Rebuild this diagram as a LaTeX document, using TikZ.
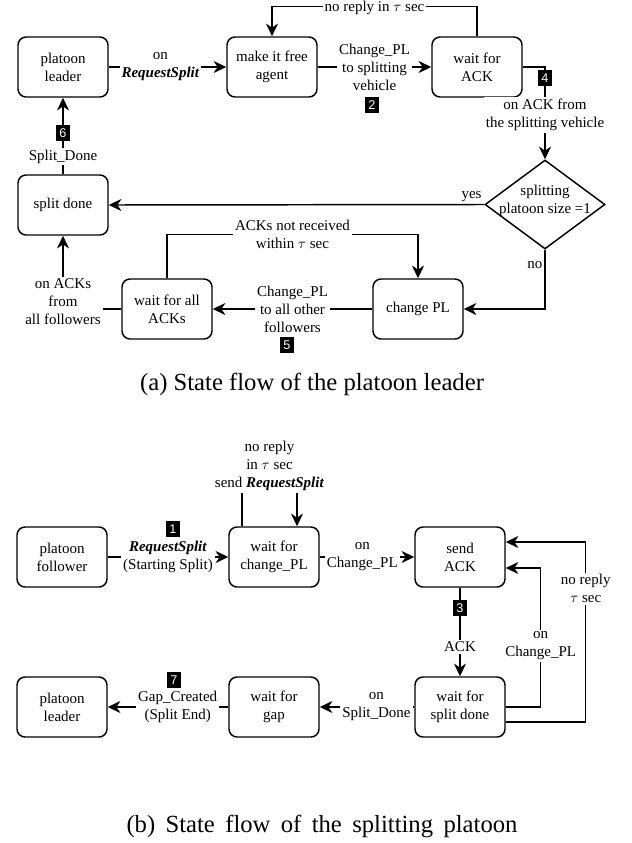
\documentclass[tikz,border=0pt]{standalone}
\usepackage{fontspec}
\setmainfont{Liberation Serif}
\newfontfamily\badgefont{Liberation Sans}
\usetikzlibrary{arrows.meta}
\usetikzlibrary{shapes.geometric}

\tikzset{
  state/.style={draw, rounded corners=6pt, line width=1.1pt, minimum width=67.5pt,
    minimum height=45pt, align=center, inner sep=2pt, font=\fontsize{11.25}{13.5}\selectfont},
  decision/.style={draw, diamond, line width=1.1pt, minimum width=90pt,
    minimum height=66.75pt, inner sep=0pt},
  arr/.style={-{Stealth[length=9.5pt,width=9pt,inset=3pt]}, line width=1.1pt},
  txt/.style={align=center, inner sep=1.5pt, font=\fontsize{11.25}{13.5}\selectfont},
  lbl/.style={txt, fill=white},
  badge/.style={fill=black, text=white, minimum width=11pt, minimum height=11.5pt,
    inner sep=0pt, font=\badgefont\fontsize{9.5}{10}\selectfont},
  caption/.style={font=\fontsize{18.5}{22}\selectfont}
}

\begin{document}
\begin{tikzpicture}[x=0.75pt, y=-0.75pt]
  \useasboundingbox (0,0) rectangle (632,843);

  % (a) platoon leader
  \node[state] (pl) at (63,67) {platoon\\leader};
  \node[state] (fa) at (272,67) {make it free\\agent};
  \node[state] (wa) at (477,67) {wait for\\ACK};
  \node[decision] (dec) at (545,204.5) {};
  \node[txt] (dect) at (545,201) {splitting\\platoon size =1};
  \node[state] (sd) at (63,205) {split done};
  \node[state] (cp) at (418,309) {change PL};
  \node[state] (wfa) at (167,309) {wait for all\\ACKs};

  \draw[arr] (pl) -- node[lbl, pos=0.44] (l1) {on\\\textbf{\textit{RequestSplit}}} (fa);
  \draw[arr] (fa) -- node[lbl] (l2) {Change\_PL\\to splitting\\vehicle} (wa);
  \node[badge] (b2) at (372,105) {2};
  \draw[arr] (wa.north) -- ++(0,-30) -| node[lbl, pos=0.25, yshift=-1.5pt] (l3) {no reply in $\tau$ sec} (fa.north);
  \draw[arr] (wa.east) -| node[badge, pos=0.56] (b4) {4}
    node[lbl, pos=0.76] (l4) {on ACK from\\the splitting vehicle} (dec.north);
  \draw[arr] (dec.west) -- node[txt, pos=0, anchor=south east] (yes) {yes} (sd.east);
  \draw[arr] (dec.south) |- node[txt, pos=0.13, anchor=east] (no) {no} (cp.east);
  \draw[arr] (cp) -- node[lbl] (l5) {Change\_PL\\to all other\\followers} (wfa);
  \node[badge] (b5) at (287,345) {5};
  \draw[arr] (wfa.north) -- ++(0,-44) -| node[lbl, pos=0.25] (l6) {ACKs not received\\within $\tau$ sec} (cp.north);
  \draw[arr] (wfa.west) -| node[lbl, pos=0.55] (l7) {on ACKs\\from\\all followers} (sd.south);
  \draw[arr] (sd) -- node[lbl, pos=0.23] (l8) {Split\_Done} node[badge, pos=0.54] (b6) {6} (pl);

  \node[caption] (capa) at (312,384) {(a) State flow of the platoon leader};

  % (b) splitting platoon
  \node[state] (pf) at (62,557) {platoon\\follower};
  \node[state] (wcp) at (274,557) {wait for\\change\_PL};
  \node[state] (sa) at (460,557) {send\\ACK};
  \node[state] (wsd) at (460,707) {wait for\\split done};
  \node[state] (wg) at (274,707) {wait for\\gap};
  \node[state] (pl2) at (62,707) {platoon\\leader};

  \draw[arr] (pf) -- node[lbl] (m1) {\textbf{\textit{RequestSplit}}\\(Starting Split)} (wcp);
  \node[badge] (b1) at (173,529) {1};
  \draw[arr] ([xshift=-24pt]wcp.north) -- ++(0,-60) -| node[lbl, pos=0.25] (m2)
    {no reply\\in $\tau$ sec\\send \textbf{\textit{RequestSplit}}} ([xshift=17.25pt]wcp.north);
  \draw[arr] (wcp) -- node[lbl, pos=0.45] (m3) {on\\Change\_PL} (sa);
  \draw[arr] (sa) -- node[badge, pos=0.23] (b3) {3} node[lbl, pos=0.67] (m4) {ACK} (wsd);
  \draw[arr] (wsd.east) -- ++(35,0) |- node[lbl, pos=0.22] (m5) {on\\Change\_PL} ([yshift=-8.25pt]sa.east);
  \draw[arr] ([yshift=-11.25pt]wsd.east) -- ++(80,0) |- node[lbl, pos=0.37] (m6)
    {no reply\\$\tau$ sec} ([yshift=11.25pt]sa.east);
  \draw[arr] (wsd) -- node[lbl, pos=0.4] (m7) {on\\Split\_Done} (wg);
  \draw[arr] (wg) -- node[lbl, pos=0.42] (m8) {Gap\_Created\\(Split End)} (pl2);
  \node[badge] (b7) at (174,680) {7};

  \node[caption] (capb) at (322,826) {\spaceskip=0.42em\relax (b) State flow of the splitting platoon};
\end{tikzpicture}
\end{document}
